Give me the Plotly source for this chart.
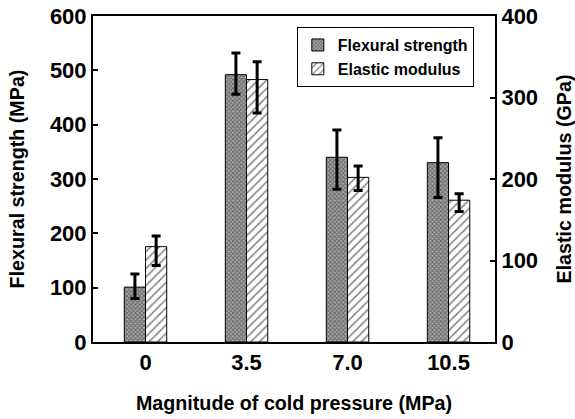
import plotly.graph_objects as go

pressure = ["0", "3.5", "7.0", "10.5"]
flex_strength = [101, 492, 340, 330]
flex_err_plus = [24, 40, 50, 46]
flex_err_minus = [21, 36, 59, 64]
elastic_modulus = [117, 322, 202, 174]
elastic_err_plus = [13, 22, 14, 8]
elastic_err_minus = [23, 41, 16, 14]

FONT = "Liberation Sans"

fig = go.Figure()
fig.add_trace(go.Bar(
    x=pressure, y=flex_strength, name="Flexural strength",
    yaxis="y", offset=-0.21, width=0.21,
    marker=dict(color="#8c8c8c", line=dict(color="black", width=1),
                pattern=dict(shape="x", size=3, solidity=0.5, fgcolor="#222222", bgcolor="#a8a8a8")),
    error_y=dict(type="data", array=flex_err_plus, arrayminus=flex_err_minus,
                 color="black", thickness=3, width=4.5),
))
fig.add_trace(go.Bar(
    x=pressure, y=elastic_modulus, name="Elastic modulus",
    yaxis="y2", offset=0, width=0.21,
    marker=dict(color="white", line=dict(color="black", width=1),
                pattern=dict(shape="/", size=6, solidity=0.25, fgcolor="black", bgcolor="white")),
    error_y=dict(type="data", array=elastic_err_plus, arrayminus=elastic_err_minus,
                 color="black", thickness=3, width=4.5),
))

axis_font = dict(family=FONT, size=22, color="black", weight="bold")
title_font = dict(family=FONT, size=19.7, color="black", weight="bold")

fig.update_layout(
    width=575, height=419,
    margin=dict(l=93, r=80, t=16, b=77),
    plot_bgcolor="white", paper_bgcolor="white",
    showlegend=True,
    legend=dict(x=0.507, y=0.966, xanchor="left", yanchor="top",
                bordercolor="black", borderwidth=1, bgcolor="white",
                font=dict(family=FONT, size=16, color="black", weight="bold"),
                itemwidth=30, tracegroupgap=0),
    xaxis=dict(type="category", range=[-0.52, 3.46], showline=True, linecolor="black",
               linewidth=2, mirror=True, ticks="", tickfont=axis_font, automargin=False,
               title=dict(text="Magnitude of cold pressure (MPa)", font=title_font, standoff=22)),
    yaxis=dict(range=[0, 600], tickvals=[0, 100, 200, 300, 400, 500, 600],
               showline=True, linecolor="black", linewidth=2, mirror=False,
               ticks="inside", ticklen=5, tickwidth=2, tickcolor="black",
               showgrid=False, zeroline=False, tickfont=axis_font, automargin=False,
               title=dict(text="Flexural strength (MPa)", font=title_font, standoff=20)),
    yaxis2=dict(range=[0, 400], tickvals=[0, 100, 200, 300, 400], overlaying="y", side="right",
                showline=True, linecolor="black", linewidth=2,
                ticks="inside", ticklen=5, tickwidth=2, tickcolor="black",
                showgrid=False, zeroline=False, tickfont=axis_font, automargin=False,
                title=dict(text="Elastic modulus (GPa)", font=title_font, standoff=21)),
)

fig.write_html("out.html", config={"displayModeBar": False},
               post_script="document.body.style.margin='0';")
